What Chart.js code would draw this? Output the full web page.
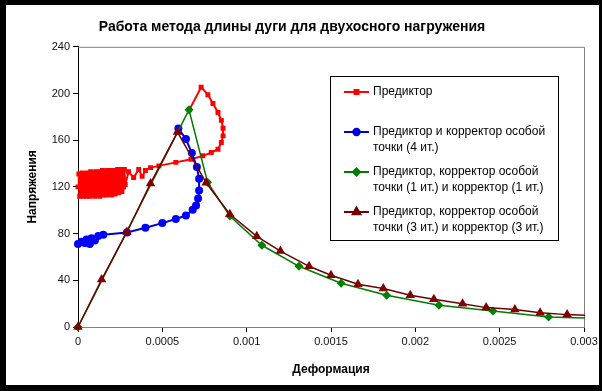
<!DOCTYPE html>
<html>
<head>
<meta charset="utf-8">
<script src="https://cdn.jsdelivr.net/npm/chart.js@4.4.0/dist/chart.umd.min.js"></script>
<style>
  html,body{margin:0;padding:0;background:#fff;}
  #wrap{width:602px;height:391px;position:relative;}
</style>
</head>
<body>
<div id="wrap"><canvas id="myChart" width="602" height="391"></canvas></div>
<script>
const chartTitle = 'Работа метода длины дуги для двухосного нагружения';
const xTitle = 'Деформация';
const yTitle = 'Напряжения';
const xTicks = [0, 0.0005, 0.001, 0.0015, 0.002, 0.0025, 0.003];
const xTickLabels = ['0', '0.0005', '0.001', '0.0015', '0.002', '0.0025', '0.003'];
const yTicks = [0, 40, 80, 120, 160, 200, 240];

const seriesNames = [
  ['Предиктор'],
  ['Предиктор и корректор особой', 'точки (4 ит.)'],
  ['Предиктор, корректор особой', 'точки (1 ит.) и корректор (1 ит.)'],
  ['Предиктор, корректор особой', 'точки (3 ит.) и корректор (3 ит.)']
];

// Предиктор
const predX = [0, 0.000005, 0.00001, 0.000015, 0.00002, 0.000025, 0.00003, 0.000035, 0.00004, 0.000045,
  0.00005, 0.000055, 0.00006, 0.000065, 0.00007, 0.000075, 0.00008, 0.000085, 0.00009, 0.000095,
  0.0001, 0.000105, 0.00011, 0.000115, 0.00012, 0.000125, 0.00013, 0.000135, 0.00014, 0.000145,
  0.00015, 0.000155, 0.00016, 0.000165, 0.00017, 0.000175, 0.00018, 0.000185, 0.00019, 0.000195,
  0.0002, 0.000205, 0.00021, 0.000215, 0.00022, 0.000225, 0.00023, 0.000235, 0.00024, 0.000245,
  0.00025, 0.000255, 0.00026, 0.000265, 0.00027, 0.000275, 0.00028,
  0.0003, 0.00033, 0.00036, 0.00038, 0.0004, 0.00043, 0.00048, 0.00058, 0.00067, 0.00074, 0.00079, 0.00083,
  0.00085, 0.00086, 0.00086, 0.00085, 0.00083, 0.0008, 0.00077, 0.00073, 0.00066];
const predY = [120, 131, 112, 130, 113, 132, 112, 131, 114, 130,
  112, 132, 113, 131, 112, 133, 114, 131, 113, 132,
  112, 133, 114, 131, 113, 133, 112, 132, 114, 134,
  113, 132, 115, 133, 113, 134, 114, 132, 115, 134,
  113, 133, 116, 134, 114, 133, 117, 135, 115, 134,
  118, 135, 116, 134, 120, 135, 122,
  133, 128, 135, 129, 134, 136.5, 138, 141, 143.7, 146.6, 149.4, 152.3,
  158, 163.7, 170.3, 177, 183.7, 191.4, 199, 205.4, 186];

// Предиктор и корректор особой точки (4 ит.)
const blueX = [0, 0.00002, 0.00004, 0.00005, 0.00007, 0.00008, 0.0001, 0.00012, 0.00015, 0.00029, 0.0004, 0.0005,
  0.00058, 0.00064, 0.00068, 0.0007, 0.000712, 0.000718, 0.000718, 0.000705, 0.000675, 0.00064, 0.000595];
const blueY = [71, 73, 72, 75, 71, 76, 74, 78, 79, 81, 85, 89,
  92.5, 95.5, 100.5, 104, 110, 117, 127, 137, 149, 161, 170];

// Предиктор, корректор особой точки (1 ит.) и корректор (1 ит.)
const greenX = [0, 0.000658, 0.000768, 0.0009, 0.00109, 0.00131, 0.00156, 0.00183, 0.00214, 0.00246, 0.00279, 0.00303];
const greenY = [0, 186, 124, 95, 70, 52, 37.5, 27.2, 18.6, 13.7, 8.6, 7.7];

// Предиктор, корректор особой точки (3 ит.) и корректор (3 ит.)
const brownX = [0, 0.00014, 0.00029, 0.00043, 0.00059, 0.00076, 0.0009, 0.00106, 0.0012, 0.00137, 0.0015, 0.00166,
  0.00181, 0.00197, 0.00211, 0.00228, 0.00242, 0.00259, 0.00274, 0.0029, 0.00303];
const brownY = [0, 40.6, 81.4, 123, 167, 123.5, 96.6, 77.7, 65, 52, 44.3, 36.6,
  32.9, 27.2, 23.7, 20, 16.6, 14.9, 12.3, 10.6, 10];

function pts(xs, ys) {
  return xs.map((x, i) => ({x: x, y: ys[i]}));
}

const fontFam = '"Liberation Sans", Arial, sans-serif';

const framePlugin = {
  id: 'frame',
  beforeDraw(chart) {
    const ctx = chart.ctx;
    ctx.save();
    ctx.fillStyle = '#fff';
    ctx.fillRect(0, 0, chart.width, chart.height);
    ctx.restore();
  },
  beforeDatasetsDraw(chart) {
    const a = chart.chartArea;
    const ctx = chart.ctx;
    ctx.save();
    ctx.strokeStyle = '#808080';
    ctx.lineWidth = 1;
    ctx.beginPath();
    ctx.moveTo(a.left, a.top + 0.5);
    ctx.lineTo(a.right + 0.5, a.top + 0.5);
    ctx.lineTo(a.right + 0.5, a.bottom);
    ctx.stroke();
    ctx.restore();
  },
  afterDraw(chart) {
    const ctx = chart.ctx;
    ctx.save();
    // legend box
    const lx = 330, ly = 76, lw = 228, lh = 164;
    ctx.fillStyle = '#fff';
    ctx.fillRect(lx, ly, lw, lh);
    ctx.strokeStyle = '#000';
    ctx.lineWidth = 1;
    ctx.strokeRect(lx + 0.5, ly + 0.5, lw, lh);
    ctx.font = '12px ' + fontFam;
    ctx.textBaseline = 'middle';
    chart.data.datasets.forEach((ds, i) => {
      const y0 = 92 + 40 * i;
      ctx.strokeStyle = ds.borderColor;
      ctx.lineWidth = 2;
      ctx.beginPath();
      ctx.moveTo(344, y0);
      ctx.lineTo(369, y0);
      ctx.stroke();
      ctx.fillStyle = ds.backgroundColor;
      ctx.strokeStyle = ds.borderColor;
      Chart.helpers.drawPoint(ctx, {pointStyle: ds.pointStyle, rotation: 0, radius: ds.pointRadius * 0.8, borderWidth: 1}, 356.5, y0);
      ctx.fillStyle = '#000';
      seriesNames[i].forEach((t, j) => {
        ctx.fillText(t, 373, y0 + 15.5 * j);
      });
    });
    // outer black frame
    ctx.fillStyle = '#000';
    ctx.fillRect(0, 0, chart.width, 5);
    ctx.fillRect(0, 0, 6, chart.height);
    ctx.fillRect(chart.width - 3, 0, 3, chart.height);
    ctx.fillRect(0, chart.height - 6, chart.width, 6);
    ctx.restore();
  }
};

const ctx = document.getElementById('myChart').getContext('2d');
const chart = new Chart(ctx, {
  type: 'scatter',
  data: {
    datasets: [
      {
        label: seriesNames[0].join(' '), data: pts(predX, predY), showLine: true,
        borderColor: '#ff0000', backgroundColor: '#ff0000', borderWidth: 2,
        pointStyle: 'rect', pointRadius: 3.5, pointBorderWidth: 0, order: 4
      },
      {
        label: seriesNames[1].join(' '), data: pts(blueX, blueY), showLine: true,
        borderColor: '#0000cc', backgroundColor: '#0000ff', borderWidth: 2,
        pointStyle: 'circle', pointRadius: 4, pointBorderWidth: 0, order: 3
      },
      {
        label: seriesNames[2].join(' '), data: pts(greenX, greenY), showLine: true,
        borderColor: '#007a00', backgroundColor: '#008000', borderWidth: 1.5,
        pointStyle: 'rectRot', pointRadius: 4.5, pointBorderWidth: 0, order: 2
      },
      {
        label: seriesNames[3].join(' '), data: pts(brownX, brownY), showLine: true,
        borderColor: '#6e0000', backgroundColor: '#800000', borderWidth: 1.5,
        pointStyle: 'triangle', pointRadius: 5.5, pointBorderWidth: 0, order: 1
      }
    ]
  },
  options: {
    responsive: false,
    animation: false,
    devicePixelRatio: 1,
    layout: {padding: {left: 0, right: 18, top: 0, bottom: 0}},
    elements: {line: {tension: 0}},
    datasets: {scatter: {clip: {left: 8, top: 8, bottom: 8, right: 1}}},
    plugins: {
      legend: {display: false},
      tooltip: {enabled: false},
      title: {
        display: true, text: chartTitle, color: '#000',
        font: {family: fontFam, size: 14, weight: 'bold'},
        padding: {top: 19, bottom: 11}
      }
    },
    scales: {
      x: {
        type: 'linear', min: 0, max: 0.003,
        afterBuildTicks: s => { s.ticks = xTicks.map(v => ({value: v})); },
        afterFit: s => { s.height = 64; },
        ticks: {
          color: '#111', font: {family: fontFam, size: 11}, padding: 3,
          maxRotation: 0, autoSkip: false,
          callback: (v, i) => xTickLabels[i]
        },
        grid: {drawOnChartArea: false, drawTicks: true, tickLength: 5, color: '#000'},
        border: {color: '#808080', width: 1},
        title: {display: true, text: xTitle, color: '#000', font: {family: fontFam, size: 12, weight: 'bold'}, padding: {top: 0, bottom: 14}}
      },
      y: {
        type: 'linear', min: 0, max: 240,
        afterBuildTicks: s => { s.ticks = yTicks.map(v => ({value: v})); },
        afterFit: s => { s.width = 78; },
        ticks: {color: '#111', font: {family: fontFam, size: 11}, padding: 3},
        grid: {drawOnChartArea: false, drawTicks: true, tickLength: 5, color: '#000'},
        border: {color: '#000', width: 1},
        title: {display: true, text: yTitle, color: '#000', font: {family: fontFam, size: 12, weight: 'bold'}, padding: {top: 25, bottom: 0}}
      }
    }
  },
  plugins: [framePlugin]
});
</script>
</body>
</html>
